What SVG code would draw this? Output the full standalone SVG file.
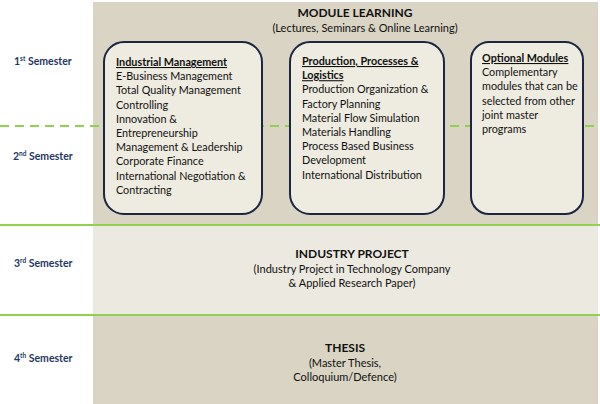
<svg xmlns="http://www.w3.org/2000/svg" width="600" height="404" viewBox="0 0 600 404">
<style>
text{font-family:Lato,"Noto Sans",sans-serif;fill:#111}
.sem{font-size:10.5px;font-weight:bold;fill:#1f3864}
.t{font-size:12px;font-weight:bold;text-anchor:middle}
.s{font-size:11px;text-anchor:middle}
.b{font-size:10.8px}
.h{font-weight:bold;text-decoration:underline}
.box{fill:#eeebe0;stroke:#1c2541;stroke-width:2}
.g{stroke:#92d050;stroke-width:2}
</style>
<rect width="600" height="404" fill="#fff"/>
<rect x="93" y="2" width="505" height="223" fill="#d9d4c3"/>
<rect x="93" y="225" width="505" height="90" fill="#ece9e0"/>
<rect x="93" y="315" width="505" height="89" fill="#d9d4c3"/>
<g id="connectors">
<line x1="0" y1="126" x2="600" y2="126" class="g" stroke-dasharray="9,6"/>
<line x1="0" y1="225" x2="600" y2="225" class="g"/>
<line x1="0" y1="315" x2="600" y2="315" class="g"/>
</g>
<g id="semesters">
<text class="sem" x="14" y="65">1<tspan font-size="6.5" dy="-4">st</tspan><tspan dy="4"> Semester</tspan></text>
<text class="sem" x="13" y="160">2<tspan font-size="6.5" dy="-4">nd</tspan><tspan dy="4"> Semester</tspan></text>
<text class="sem" x="14" y="267">3<tspan font-size="6.5" dy="-4">rd</tspan><tspan dy="4">  Semester</tspan></text>
<text class="sem" x="14" y="362">4<tspan font-size="6.5" dy="-4">th</tspan><tspan dy="4"> Semester</tspan></text>
</g>
<g id="module-learning">
<text class="t" x="355" y="17">MODULE LEARNING</text>
<text class="s" x="365" y="32">(Lectures, Seminars &amp; Online Learning)</text>
</g>
<g id="industrial-management">
<rect class="box" x="104" y="42" width="158" height="172" rx="20"/>
<text class="b" x="116" y="66"><tspan class="h">Industrial Management</tspan><tspan x="116" dy="14.2">E-Business Management</tspan><tspan x="116" dy="14.2">Total Quality Management</tspan><tspan x="116" dy="14.2">Controlling</tspan><tspan x="116" dy="14.2">Innovation &amp;</tspan><tspan x="116" dy="14.2">Entrepreneurship</tspan><tspan x="116" dy="14.2">Management &amp; Leadership</tspan><tspan x="116" dy="14.2">Corporate Finance</tspan><tspan x="116" dy="14.2">International Negotiation &amp;</tspan><tspan x="116" dy="14.2">Contracting</tspan></text>
</g>
<g id="production">
<rect class="box" x="290" y="42" width="154" height="172" rx="20"/>
<text class="b" x="302" y="65"><tspan class="h">Production, Processes &amp;</tspan><tspan x="302" dy="14.2" class="h">Logistics</tspan><tspan x="302" dy="14.2">Production Organization &amp;</tspan><tspan x="302" dy="14.2">Factory Planning</tspan><tspan x="302" dy="14.2">Material Flow Simulation</tspan><tspan x="302" dy="14.2">Materials Handling</tspan><tspan x="302" dy="14.2">Process Based Business</tspan><tspan x="302" dy="14.2">Development</tspan><tspan x="302" dy="14.2">International Distribution</tspan></text>
</g>
<g id="optional">
<rect class="box" x="471" y="42" width="112" height="172" rx="18"/>
<text class="b" x="482" y="62"><tspan class="h">Optional Modules</tspan><tspan x="482" dy="14.2">Complementary</tspan><tspan x="482" dy="14.2">modules that can be</tspan><tspan x="482" dy="14.2">selected from other</tspan><tspan x="482" dy="14.2">joint master</tspan><tspan x="482" dy="14.2">programs</tspan></text>
</g>
<g id="industry-project">
<text class="t" x="352" y="258">INDUSTRY PROJECT</text>
<text class="s" x="352" y="273">(Industry Project in Technology Company</text>
<text class="s" x="352" y="287">&amp; Applied Research Paper)</text>
</g>
<g id="thesis">
<text class="t" x="345" y="352">THESIS</text>
<text class="s" x="345" y="367">(Master Thesis,</text>
<text class="s" x="345" y="381">Colloquium/Defence)</text>
</g>
</svg>
